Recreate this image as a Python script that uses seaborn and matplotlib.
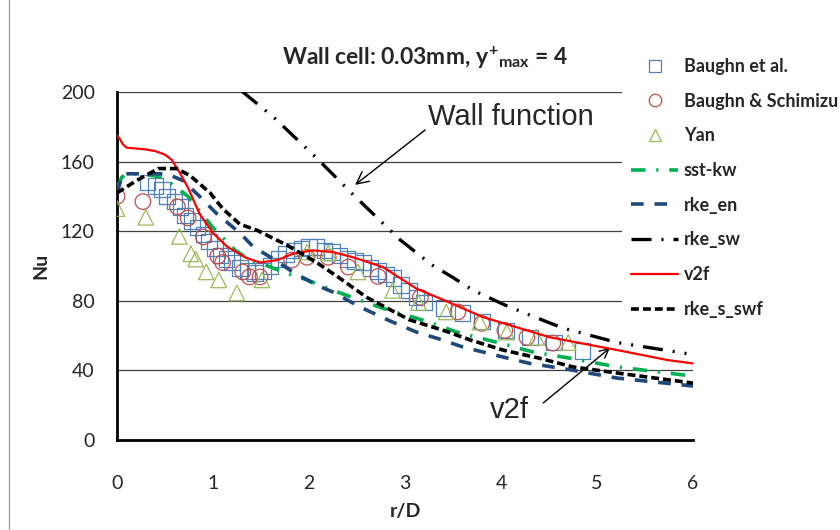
import matplotlib
matplotlib.use('Agg')
import matplotlib.pyplot as plt
import seaborn as sns
from matplotlib.lines import Line2D
from matplotlib.patches import Rectangle

# experimental data
baughn_r = [0.32, 0.40, 0.47, 0.52, 0.60, 0.66, 0.71, 0.78, 0.84, 0.90, 0.96, 1.02, 1.08, 1.14,
            1.20, 1.28, 1.36, 1.44, 1.52, 1.60, 1.68, 1.76, 1.84, 1.92, 2.00, 2.08, 2.16, 2.24,
            2.32, 2.40, 2.48, 2.56, 2.64, 2.72, 2.80, 2.88, 2.96, 3.04, 3.12, 3.20, 3.40, 3.60,
            3.80, 4.05, 4.30, 4.55, 4.85]
baughn_nu = [148, 146, 144, 140, 137, 134, 129, 126, 122, 118, 114, 110, 106, 104,
             102, 99, 97, 96, 97, 100, 104, 107, 109, 110, 111, 111, 109, 108,
             106, 104, 103, 102, 99, 97, 95, 93, 89, 86, 82, 79, 76, 73,
             68, 63, 59, 56, 51]
schim_r = [0.0, 0.27, 0.63, 0.74, 0.90, 1.05, 1.10, 1.31, 1.38, 1.49, 1.82, 1.98, 2.20, 2.41,
           2.72, 3.16, 3.55, 3.80, 4.04, 4.27, 4.54]
schim_nu = [140, 137, 134, 127.6, 116.7, 105.7, 102, 96.6, 93.7, 93.7, 103.4, 105, 105, 99.4,
            94, 82, 73.6, 67, 63, 59, 55.7]
yan_r = [0.0, 0.30, 0.65, 0.77, 0.82, 0.93, 1.06, 1.25, 1.51, 1.98, 2.20, 2.51, 2.87, 3.14,
         3.43, 3.78, 4.06, 4.37, 4.70]
yan_nu = [133, 128, 117, 107, 104, 96.6, 92, 84.5, 92, 108, 107.5, 96.6, 86, 79,
          73.6, 67.8, 62, 59, 56]

# model predictions
sst_r = [0, 0.05, 0.1, 0.25, 0.48, 0.74, 1.0, 1.23, 1.4, 1.49, 1.73, 1.98, 2.25, 2.6, 2.88,
         3.08, 3.29, 3.54, 3.68, 3.99, 4.33, 4.72, 5.21, 5.9, 6.0]
sst_nu = [145, 151, 153, 153, 151, 140, 122, 109, 103, 101.7, 96.6, 92, 86, 79, 73.6,
          70.7, 67, 62, 60, 55.7, 50.6, 47, 42, 37.4, 37]
en_r = [0, 0.06, 0.2, 0.52, 0.69, 0.86, 1.04, 1.28, 1.42, 1.63, 1.83, 2.08, 2.25, 2.53, 2.84,
        3.12, 3.36, 3.6, 3.96, 4.3, 4.65, 5.21, 5.9, 6.0]
en_nu = [142, 153, 153, 153, 149, 140, 130, 119, 111, 104, 96.6, 89, 85, 76.5, 68.5,
         62, 58, 53.5, 48.5, 44, 41, 35.6, 31.6, 31]
sw_r = [1.30, 1.63, 2.08, 2.46, 2.95, 3.28, 3.49, 3.71, 4.04, 4.30, 4.64, 5.21, 5.9, 6.0]
sw_nu = [200.5, 185.6, 162, 141, 115, 100.6, 93.7, 86, 77.6, 71.8, 64.4, 56, 50, 49]
v2f_r = [0, 0.03, 0.06, 0.1, 0.2, 0.3, 0.4, 0.5, 0.57, 0.65, 0.74, 0.86, 1.0, 1.15, 1.35, 1.49,
         1.67, 1.83, 2.04, 2.25, 2.46, 2.77, 3.12, 3.4, 3.81, 4.51, 5.21, 5.73, 6.0]
v2f_nu = [175, 173, 170, 168, 167.5, 167, 166, 164, 161, 154, 145, 130, 119, 111, 104.6, 102,
          103.4, 107, 109, 108, 105, 99.4, 87, 80.5, 70.7, 59, 51.7, 46, 44]
swf_r = [0, 0.2, 0.43, 0.62, 0.76, 0.97, 1.1, 1.28, 1.46, 1.77, 2.08, 2.32, 2.6, 2.81, 3.05,
         3.4, 3.68, 4.02, 4.4, 4.75, 5.21, 6.0]
swf_nu = [142, 149, 156, 156, 152, 142, 133, 124, 120.5, 112, 102, 93, 82, 75.9, 69,
          63, 57.5, 51.7, 47, 42, 38.5, 32.7]

sns.set_style('white')
plt.rcParams['font.family'] = ['Lato', 'DejaVu Sans']
plt.rcParams['mathtext.fontset'] = 'custom'
plt.rcParams['mathtext.rm'] = 'Lato:bold'
plt.rcParams['mathtext.it'] = 'Lato:bold'
plt.rcParams['mathtext.bf'] = 'Lato:bold'

fig = plt.figure(figsize=(8.4, 5.3), dpi=100)
ax = fig.add_axes([117 / 840, 90 / 530, 576 / 840, 348 / 530])

mk = dict(s=125, linewidth=0.9, zorder=3, legend=False)
sns.scatterplot(x=baughn_r, y=baughn_nu, marker='s', facecolor='none', edgecolor='#4F81BD', ax=ax, **mk)
sns.scatterplot(x=schim_r, y=schim_nu, marker='o', facecolor='none', edgecolor='#C0504D', ax=ax, **mk)
sns.scatterplot(x=yan_r, y=yan_nu, marker='^', facecolor='none', edgecolor='#9BBB59', ax=ax, **mk)

ln = dict(sort=False, estimator=None, ax=ax, zorder=4)
sns.lineplot(x=sst_r, y=sst_nu, color='#00B050', lw=2.6, linestyle=(0, (4, 3, 0.6, 3)), **ln)
sns.lineplot(x=en_r, y=en_nu, color='#1F497D', lw=2.6, linestyle=(0, (3.5, 3)), **ln)
sns.lineplot(x=sw_r, y=sw_nu, color='black', lw=2.4, linestyle=(0, (6, 3, 0.6, 3, 0.6, 3)), **ln)
sns.lineplot(x=v2f_r, y=v2f_nu, color='#FF0000', lw=1.6, **ln)
sns.lineplot(x=swf_r, y=swf_nu, color='black', lw=2.6, linestyle=(0, (2.2, 1.1)), **ln)

ax.set_xlim(0, 6)
ax.set_ylim(0, 200)
ax.set_xticks(range(0, 7))
ax.set_yticks(range(0, 201, 40))
ax.yaxis.grid(True, color='#404040', lw=0.9)
ax.set_axisbelow(True)
for s in ['top', 'right']:
    ax.spines[s].set_visible(False)
for s in ['left', 'bottom']:
    ax.spines[s].set_color('black')
    ax.spines[s].set_linewidth(2)
ax.tick_params(axis='both', direction='out', length=6, width=1, color='#808080',
               labelsize=14, pad=10)
ax.tick_params(axis='x', pad=19)
ax.set_xlabel('r/D', fontsize=14, fontweight='bold', labelpad=8)
ax.set_ylabel('Nu', fontsize=14, fontweight='bold', labelpad=8)

fig.text(425 / 840, 1 - 58 / 530, r'Wall cell: 0.03mm, $y^{+}{}_{max}$ = 4',
         ha='center', va='center', fontsize=16.5, fontweight='bold')

ax.text(3.24, 185.5, 'Wall function', fontsize=21, family='Liberation Sans',
        ha='left', va='center')
ax.annotate('', xy=(2.48, 146.6), xytext=(3.21, 178.2),
            arrowprops=dict(arrowstyle='->', color='black', lw=1, mutation_scale=22,
                            shrinkA=0, shrinkB=0))
ax.text(4.09, 17, 'v2f', fontsize=21, family='Liberation Sans', ha='center', va='center')
ax.annotate('', xy=(5.135, 52.9), xytext=(4.44, 21.3),
            arrowprops=dict(arrowstyle='->', color='black', lw=1, mutation_scale=16,
                            shrinkA=0, shrinkB=0))

handles = [
    Line2D([], [], ls='none', marker='s', mfc='none', mec='#4F81BD', ms=9, mew=0.9),
    Line2D([], [], ls='none', marker='o', mfc='none', mec='#C0504D', ms=9, mew=0.9),
    Line2D([], [], ls='none', marker='^', mfc='none', mec='#9BBB59', ms=9, mew=0.9),
    Line2D([], [], color='#00B050', lw=2.6, ls=(0, (4, 3, 0.6, 3))),
    Line2D([], [], color='#1F497D', lw=2.6, ls=(0, (3.5, 3))),
    Line2D([], [], color='black', lw=2.4, ls=(0, (6, 3, 0.6, 3))),
    Line2D([], [], color='#FF0000', lw=1.6),
    Line2D([], [], color='black', lw=2.6, ls=(0, (2.2, 1.1))),
]
labels = ['Baughn et al.', 'Baughn & Schimizu', 'Yan', 'sst-kw', 'rke_en', 'rke_sw', 'v2f', 'rke_s_swf']
leg = fig.legend(handles, labels, loc='upper left', bbox_to_anchor=(622 / 840, 1 - 49 / 530),
                 frameon=True, facecolor='white', edgecolor='none', framealpha=1, fancybox=False,
                 prop={'weight': 'bold', 'size': 13}, handlelength=2.6, handletextpad=0.33,
                 labelspacing=0.98, borderpad=0.5, borderaxespad=0)
leg.set_zorder(10)

fig.patches.append(Rectangle((9 / 840, -0.1), 1.2, 1.2, transform=fig.transFigure,
                             fill=False, ec='#a6a6a6', lw=1))

fig.savefig('out.png', dpi=100)
